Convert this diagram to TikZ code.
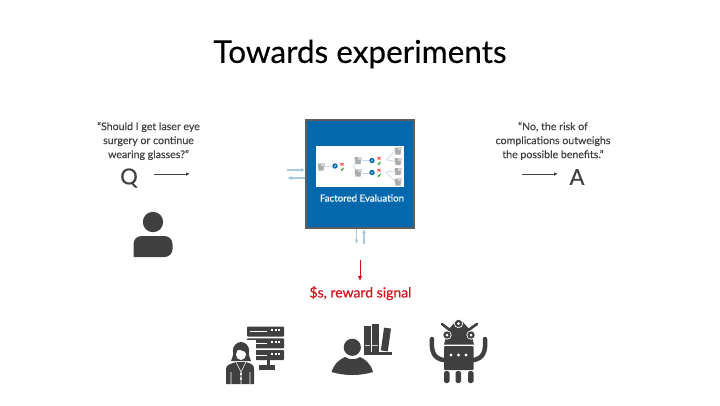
\documentclass[tikz,border=0pt]{standalone}
\usepackage{fontspec}
\setmainfont{Lato}
\newfontfamily\heavy[FakeBold=0.25]{Lato}
\usetikzlibrary{arrows.meta}
\definecolor{ink}{HTML}{404040}
\definecolor{fe}{HTML}{0369AC}
\definecolor{pale}{HTML}{A9C8E2}
\definecolor{redc}{HTML}{D0121B}
\tikzset{
 x=1pt,y=-1pt,
 txt/.style={font=\heavy\fontsize{10.6}{14}\selectfont,text=ink,align=center,inner sep=0},
 big/.style={font=\heavy\fontsize{22}{24}\selectfont,text=ink,inner sep=0},
 qarrow/.style={draw=ink,line width=.8pt,-{Latex[length=4pt,width=3.5pt]}},
 palearrow/.style={draw=pale,line width=1.2pt,-{Latex[length=4.5pt,width=4pt]}},
 redarrow/.style={draw=redc,line width=.9pt,-{Latex[length=5pt,width=4.5pt]}},
 febox/.style={draw=ink!85,line width=1.4pt,fill=fe,inner sep=0,minimum width=108pt,minimum height=108pt},
 link/.style={draw=pale!70,line width=.7pt},
 doc/.pic={\fill[gray!65] (-3.5,-3.5) -- (3.5,-3.5) -- (2.5,3.5) -- (-2.5,3.5) -- cycle; \fill[gray!35] (0,-4) rectangle (4,-1);},
 dot/.pic={\fill[fe] (0,0) circle (2.7); \draw[white,line width=.5pt] (-1,1) -- (1,-1);},
 mark/.pic={\draw[red!70,line width=.9pt] (-1.5,-4) -- (1.5,-1.5) (1.5,-4) -- (-1.5,-1.5); \draw[green!60!black,line width=.8pt] (-1.2,2.5) -- (-.3,3.5) -- (1.5,.8);},
}
\begin{document}
\begin{tikzpicture}
\useasboundingbox (0,0) rectangle (720,405);
\fill[white] (0,0) rectangle (720,405);
\node[font=\heavy\fontsize{31.5}{33}\selectfont,text=black,inner sep=0] (title) at (360,54) {Towards experiments};
\node[txt] (qtext) at (148.5,141) {“Should I get laser eye\\surgery or continue\\wearing glasses?”};
\node[txt] (atext) at (553,141) {“No, the risk of\\complications outweighs\\the possible benefits.”};
\node[big] (q) at (129,178) {Q};
\node[big] (a) at (577,177) {A};
\coordinate (qend) at (190,174);
\coordinate (aend) at (558,174);
\coordinate (astart) at (522,174);
\coordinate (qstart) at (154,174);
\draw[qarrow] (qstart) -- (qend);
\draw[qarrow] (astart) -- (aend);
% evaluation box
\node[febox] (box) at (360,174) {};
\node[fill=white,minimum width=88pt,minimum height=41pt,inner sep=0] (panel) at (360,166.5) {};
\node[font=\heavy\fontsize{9.7}{11}\selectfont,text=white,inner sep=0] (felabel) at (362,198) {Factored Evaluation};
% mini tree
\draw[link] (321,167) -- (335,166);
\draw[link] (353,166) -- (358,160) (353,166) -- (358,173);
\draw[link] (362,160.5) -- (372,160.5) (362,173) -- (372,173);
\draw[link] (386,160) -- (395,151) (386,160) -- (395,161) (386,172) -- (395,171) (386,172) -- (395,182);
\foreach \p in {(321,167),(358,160.5),(358,173),(398,151),(398,161.5),(398,171.5),(398,182)} \pic at \p {doc};
\foreach \p in {(335,166),(372,160.5),(372,172.5)} \pic at \p {dot};
\foreach \p in {(342,167),(379,161),(379,173)} \pic at \p {mark};
% arrows at box
\coordinate (lin) at (287,170);
\coordinate (lout) at (287,178);
\coordinate (bout) at (356.5,244);
\coordinate (bin) at (364,244);
\draw[palearrow] (lin) -- (lin -| box.west);
\draw[palearrow] (lout -| box.west) -- (lout);
\draw[palearrow] (bout |- box.south) -- (bout);
\draw[palearrow] (bin) -- (bin |- box.south);
\node[font=\heavy\fontsize{14}{16}\selectfont,text=redc,inner sep=0] (reward) at (360.5,293) {\$s, reward signal};
\coordinate (rstart) at (360,260);
\coordinate (rend) at (360,281);
\draw[redarrow] (rstart) -- (rend);
% user
\fill[ink] (153,222) circle (10.2);
\fill[ink,rounded corners=8pt] (133.5,257) -- (133.5,236) -- (172.5,236) -- (172.5,257) [sharp corners] -- cycle;
% analyst with servers
\foreach \y in {326.5,338.3,350} {
 \fill[ink,rounded corners=.8pt] (247,\y) rectangle (284,\y+10);
 \fill[white] (250,\y+4.6) rectangle (267,\y+5.8);
 \foreach \x in {271,274.5,278} \fill[white] (\x,\y+2.5) rectangle (\x+2,\y+4.5);
}
\fill[ink] (267,360) rectangle (269.5,365);
\fill[ink] (259,365) rectangle (275,370);
\fill[white] (229,340) rectangle (256,367);
\fill[ink] (241,351) ellipse (8.2 and 9);
\fill[ink] (231,361) .. controls (233,356) and (234,352) .. (234,348) -- (248,348) .. controls (248,352) and (249,356) .. (251,361) -- cycle;
\fill[white] (241,354.5) ellipse (5 and 5.5);
\fill[ink] (235,349) .. controls (240,349.5) and (244,351) .. (247,353) -- (247,347) -- (235,347) -- cycle;
\fill[ink] (226,384) -- (226,369) .. controls (226,365) and (230,364) .. (236,362) -- (246,362) .. controls (252,364) and (254,365) .. (254,369) -- (254,384) -- cycle;
\draw[white,line width=.6pt] (236,362) -- (241,372) -- (246,362) (241,372) -- (241,384) (231,372) -- (231,384) (250,372) -- (250,384);
\fill[white] (240.2,373) rectangle (241.8,375) (240.2,377.5) rectangle (241.8,379.5);
% reader with books
\fill[ink] (364,326) rectangle (370.5,352);
\fill[ink] (371.5,323.5) rectangle (378.5,352);
\fill[ink,rotate around={-8:(386,339)}] (382.5,328) rectangle (389.5,351);
\fill[ink] (364,352) rectangle (391.5,354.5);
\foreach \x/\w in {364.8/5,372.2/5.5} \fill[white!75!ink] (\x,345) rectangle (\x+\w,346);
\fill[white] (352.3,347.3) circle (10.5);
\fill[white] (331,374) .. controls (334,358) and (345,356) .. (352,358) .. controls (362,356) and (371,360) .. (374,374) -- cycle;
\fill[ink] (352.3,347.3) circle (8.6);
\fill[ink] (331.5,372) .. controls (334,364) and (340,359) .. (345,357) .. controls (349,360) and (356,360) .. (360,357) .. controls (365,359) and (371,364) .. (373,372) .. controls (360,376) and (345,376) .. (331.5,372) -- cycle;
% robot
\fill[ink,rounded corners=1pt] (444,346) rectangle (473.5,370);
\foreach \x in {451,458.5,466} \fill[white] (\x,355) circle (1.6);
\foreach \x in {444,455.5,468} \fill[ink,rounded corners=1.6pt] (\x,371) rectangle (\x+5.5,383);
\draw[ink,line width=4.5pt,line cap=round] (432,339) .. controls (431,352) and (434,358) .. (443,360);
\draw[ink,line width=4.5pt,line cap=round] (485,339) .. controls (486,352) and (483,358) .. (474,360);
\fill[ink] (444,344.5) -- (448,330) -- (456,321) .. controls (458,319) and (460,319) .. (462,321) -- (470,330) -- (474,344.5) -- cycle;
\draw[ink,line width=2.6pt,line cap=round] (442,324) -- (451,331) (477,324) -- (467,331);
\foreach \x/\y in {447/335,458.5/323.5,471/335} {
 \fill[white] (\x,\y) circle (4.6);
 \fill[ink] (\x,\y) circle (3.7);
 \fill[white] (\x,\y) circle (1.5);
}
\end{tikzpicture}
\end{document}
